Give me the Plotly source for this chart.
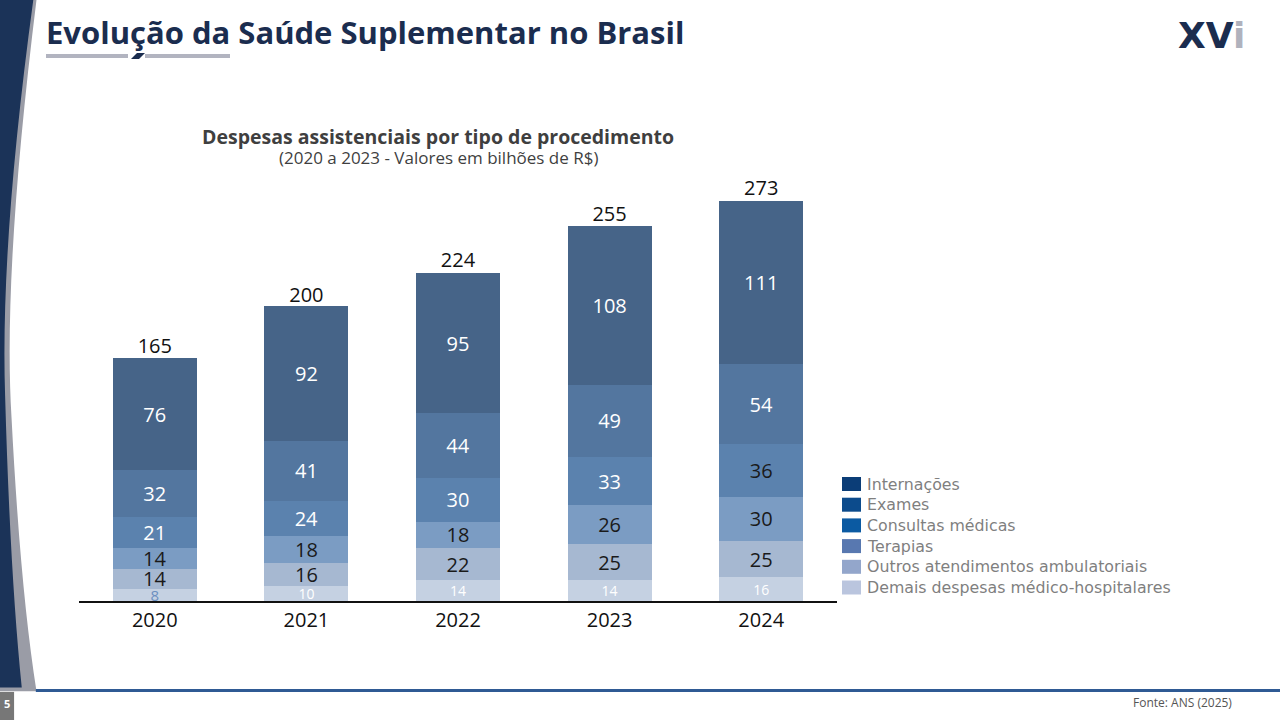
import plotly.graph_objects as go

anos = ["2020", "2021", "2022", "2023", "2024"]
totais = [165, 200, 224, 255, 273]

# bottom to top
demais = [8, 10, 14, 14, 16]
outros = [14, 16, 22, 25, 25]
terapias = [14, 18, 18, 26, 30]
consultas = [21, 24, 30, 33, 36]
exames = [32, 41, 44, 49, 54]
internacoes = [76, 92, 95, 108, 111]

series = [
    ("Demais despesas médico-hospitalares", demais),
    ("Outros atendimentos ambulatoriais", outros),
    ("Terapias", terapias),
    ("Consultas médicas", consultas),
    ("Exames", exames),
    ("Internações", internacoes),
]

bar_colors = ["#c5d1e2", "#a6b8d1", "#7b9cc3", "#5b82ae", "#53769f", "#466488"]
legend_colors = ["#bac5de", "#93a6cb", "#5878b0", "#0b5aa2", "#0c4b8c", "#0b3d77"]
text_colors = [
    ["#6b8fc0", "white", "white", "white", "white"],
    ["#1a1a1a"] * 5,
    ["#1a1a1a"] * 5,
    ["white", "white", "white", "white", "#1a1a1a"],
    ["white"] * 5,
    ["white"] * 5,
]
text_sizes = [[15, 14, 14, 14, 14]] + [[20] * 5] * 5

FONT = "Open Sans"
W, H = 1280, 720


def px(x):
    return x / W


def py(y):
    return 1 - y / H


fig = go.Figure()
for (name, vals), bc, tc, ts in zip(series, bar_colors, text_colors, text_sizes):
    fig.add_trace(go.Bar(
        x=anos, y=vals, name=name, showlegend=False,
        marker=dict(color=bc, line=dict(width=0)),
        text=vals, textposition="inside", insidetextanchor="middle",
        constraintext="none", textangle=0,
        textfont=dict(color=tc, size=ts, family=FONT),
        hoverinfo="skip",
    ))

fig.add_trace(go.Scatter(
    x=anos, y=totais, mode="text", text=totais, textposition="top center",
    textfont=dict(size=20, color="#111111", family=FONT), showlegend=False,
    hoverinfo="skip", cliponaxis=False,
))

shapes = [
    # left decoration: gray strip and navy band
    dict(type="path", xref="paper", yref="paper", layer="above",
         path="M 0,1 L 0.0285,1 Q 0.002,0.62 0.009,0.42 Q 0.016,0.18 0.0285,0.04 L 0,0.04 Z",
         fillcolor="#9a9ca6", line=dict(width=0)),
    dict(type="path", xref="paper", yref="paper", layer="above",
         path="M 0,1 L 0.026,1 Q 0.0,0.66 0.004,0.45 Q 0.008,0.2 0.017,0.045 L 0,0.045 Z",
         fillcolor="#1b3358", line=dict(width=0)),
    # bottom rule
    dict(type="rect", xref="paper", yref="paper", x0=0.028, x1=1, y0=0.039, y1=0.043,
         fillcolor="#2f5a94", line=dict(width=0)),
    dict(type="rect", xref="paper", yref="paper", x0=0, x1=0.011, y0=0, y1=0.039,
         fillcolor="#777777", line=dict(width=0)),
    # title underline
    dict(type="rect", xref="paper", yref="paper", x0=px(46), x1=px(128),
         y0=py(58), y1=py(54), fillcolor="#b2b4c0", line=dict(width=0)),
    dict(type="rect", xref="paper", yref="paper", x0=px(145), x1=px(230),
         y0=py(58), y1=py(54), fillcolor="#b2b4c0", line=dict(width=0)),
    dict(type="path", xref="paper", yref="paper",
         path=f"M {px(131)},{py(59)} L {px(137)},{py(53)} L {px(145)},{py(53)} L {px(139)},{py(59)} Z",
         fillcolor="#1b2d4f", line=dict(width=0)),
]

annotations = [
    dict(text="<b>Evolução da Saúde Suplementar no Brasil</b>", x=px(44), y=py(32),
         xref="paper", yref="paper", xanchor="left", yanchor="middle", showarrow=False,
         font=dict(size=31, color="#1b2d4f", family=FONT)),
    dict(text="<b>Despesas assistenciais por tipo de procedimento</b>", x=px(438), y=py(136),
         xref="paper", yref="paper", xanchor="center", yanchor="middle", showarrow=False,
         font=dict(size=19.5, color="#3f3f3f", family=FONT)),
    dict(text="(2020 a 2023 - Valores em bilhões de R$)", x=px(438), y=py(157),
         xref="paper", yref="paper", xanchor="center", yanchor="middle", showarrow=False,
         font=dict(size=17, color="#3f3f3f", family=FONT)),
    dict(text="<b><span style='color:#1b2d4f'>XV</span><span style='color:#b0b2bd'>i</span></b>",
         x=px(1247), y=py(35), xref="paper", yref="paper", xanchor="right",
         yanchor="middle", showarrow=False, font=dict(size=36, family="DejaVu Sans")),
    dict(text="Fonte: ANS (2025)", x=px(1234), y=py(702), xref="paper", yref="paper",
         xanchor="right", yanchor="middle", showarrow=False,
         font=dict(size=12, color="#555555", family=FONT)),
    dict(text="<b>5</b>", x=px(7), y=py(703), xref="paper", yref="paper",
         xanchor="center", yanchor="middle", showarrow=False,
         font=dict(size=11, color="white", family=FONT)),
]

# legend drawn by hand: Internações on top
for i, ((name, _), lc) in enumerate(reversed(list(zip(series, legend_colors)))):
    yc = 484 + i * 20.7
    shapes.append(dict(type="rect", xref="paper", yref="paper",
                       x0=px(842), x1=px(861), y0=py(yc + 7), y1=py(yc - 7),
                       fillcolor=lc, line=dict(width=0)))
    annotations.append(dict(text=name, x=px(865), y=py(yc), xref="paper", yref="paper",
                            xanchor="left", yanchor="middle", showarrow=False,
                            font=dict(size=15.8, color="#7f7f7f", family="DejaVu Sans")))

fig.update_layout(
    width=W, height=H, margin=dict(l=0, r=0, t=0, b=0),
    paper_bgcolor="white", plot_bgcolor="rgba(0,0,0,0)",
    barmode="stack", bargap=0.445, showlegend=False,
    font=dict(family=FONT),
    xaxis=dict(domain=[px(79), px(837)], showgrid=False, showline=True,
               linecolor="#111111", linewidth=1.5, ticks="",
               tickfont=dict(size=20, color="#111111", family=FONT)),
    yaxis=dict(domain=[py(601), py(180)], range=[0, 421 / 1.47],
               visible=False, showgrid=False),
    shapes=shapes, annotations=annotations,
)

fig.write_html("out.html", config={"displayModeBar": False},
               post_script="document.body.style.margin='0';")
